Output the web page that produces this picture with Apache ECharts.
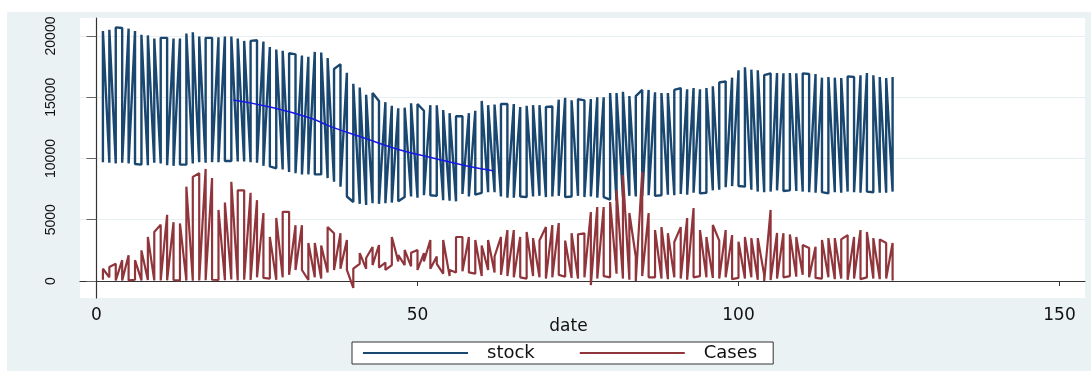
<!DOCTYPE html>
<html>
<head>
<meta charset="utf-8">
<script src="https://cdn.jsdelivr.net/npm/echarts@6/dist/echarts.min.js"></script>
<style>
  html, body { margin: 0; padding: 0; background: #ffffff; }
  #chart { position: absolute; left: 7px; top: 12px; width: 1084px; height: 359px; }
</style>
</head>
<body>
<div id="chart"></div>
<script>
// two observations per date, drawn in data order (Stata-style line)
const xTicks = [0, 50, 100, 150]
const yTicks = [0, 5000, 10000, 15000, 20000]

const stockHigh = [
  20400, 20500, 20700, 20650, 20600, 20400, 20100, 20050, 19800, 19850,
  19850, 19800, 19800, 20200, 20300, 19950, 19850, 19850, 19900, 19950,
  19950, 19800, 19600, 19600, 19650, 19550, 19100, 18900, 18800, 18600,
  18500, 18400, 18300, 18700, 18650, 18200, 17300, 17700, 17000, 16100,
  15800, 15200, 15350, 14700, 14600, 14300, 14100, 14150, 14500, 14450,
  13900, 14350, 14350, 13950, 13700, 13450, 13450, 13700, 13900, 14700,
  14350, 14400, 14450, 14450, 14450, 14200, 14300, 14350, 14350, 14200,
  14250, 14800, 14950, 14750, 14850, 14750, 14850, 15000, 15000, 15350,
  15350, 15450, 15100, 15100, 15600, 15600, 15400, 15350, 15350, 15600,
  15750, 15650, 15750, 15650, 15750, 15900, 16200, 16300, 16600, 17200,
  17450, 17250, 17200, 16800, 16950, 16980, 16950, 16980, 16950, 16950,
  16900, 16900, 16600, 16650, 16600, 16570, 16700, 16650, 16800, 16980,
  16800, 16650, 16570, 16650
]
const stockLow = [
  9700, 9650, 9600, 9650, 9600, 9550, 9500, 9450, 9650, 9600,
  9450, 9400, 9500, 9500, 9600, 9700, 9650, 9700, 9700, 9800,
  9800, 9750, 9750, 9700, 9650, 9400, 9350, 9200, 9100, 8900,
  8800, 8700, 8700, 8700, 8700, 8400, 8100, 7700, 6900, 6450,
  6300, 6200, 6350, 6300, 6350, 6400, 6500, 6850, 6900, 6800,
  7000, 7000, 6950, 6600, 6550, 6500, 7100, 6900, 7050, 7200,
  7250, 7250, 6900, 6800, 6800, 6900, 6850, 6900, 6950, 6850,
  6900, 6950, 6850, 6900, 6950, 6850, 6900, 6800, 6850, 6650,
  6550, 6900, 6950, 6900, 6950, 7000, 6950, 7000, 7050, 7000,
  7100, 7050, 7200, 7150, 7200, 7400, 7450, 7650, 7750, 7750,
  7700, 7450, 7300, 7250, 7300, 7400, 7350, 7400, 7350, 7300,
  7250, 7200, 7250, 7150, 7250, 7200, 7300, 7250, 7200, 7300,
  7250, 7200, 7200, 7300
]
// L = low obs first, H = high obs first
const stockOrder = [
  "LLLHHHLLLL", "HHHLLLLHHH", "LLLLHHHLLL", "HHHHLLLHHL",
  "LLLHHHHLLL", "HHLLLLHHHL", "LLLHHHLLLL", "HHHLLHHHHL",
  "LLLLHHHLLL", "HHHHLLLHHH", "LLLLHHHLLL", "HHHLLLLHHH", "LLLL"
].join("")

const casesTop = [
  1000, 1150, 1400, 1700, 2100, 1700, 2500, 3600, 4000, 4600,
  5400, 4800, 4700, 7700, 8500, 8800, 9150, 8400, 5800, 6400,
  8100, 7400, 7400, 7200, 6600, 5550, 3600, 5150, 5650, 5650,
  4550, 4550, 3100, 3100, 2900, 4400, 3900, 3900, 3350, 1000,
  2280, 1880, 2780, 2940, 1500, 3590, 2120, 2530, 2300, 2530,
  2280, 3350, 2000, 3350, 900, 3590, 3590, 3590, 3350, 2900,
  3350, 2000, 3600, 4160, 4160, 3600, 4000, 3500, 3300, 4400,
  4570, 4730, 3300, 3900, 3800, 3900, 5630, 6040, 6040, 6450,
  7430, 8650, 5550, 2000, 8900, 5550, 4160, 4400, 3900, 3180,
  4400, 5140, 5960, 4160, 3600, 4570, 3300, 4160, 3750, 3200,
  3600, 3500, 3500, 500, 5800, 3920, 3900, 3800, 3600, 2940,
  2700, 2800, 3350, 3500, 3500, 3400, 3750, 3600, 4160, 4000,
  3500, 3400, 3100, 3100
]
const casesBottom = [
  100, 300, 50, 50, 50, 100, 50, 80, 50, 50,
  60, 80, 50, 40, 30, 50, 60, 100, 80, 60,
  120, 50, 100, 80, 300, 250, 200, 100, 300, 500,
  900, 900, 80, 300, 200, 700, 900, 1000, 900, -570,
  1400, 1000, 1300, 1100, 900, 1300, 1600, 1300, 1200, 900,
  1600, 1000, 1400, 600, 400, 700, 800, 700, 600, 400,
  900, 700, 500, 400, 300, 300, 200, 400, 300, 200,
  300, 500, 350, 250, 200, 300, -330, 200, 400, 300,
  600, 200, 100, 0, 400, 300, 300, 200, 150, 300,
  200, 100, 300, 400, 300, 250, 200, 300, 150, 250,
  200, 300, 100, 0, 80, 200, 300, 400, 350, 500,
  300, 250, 200, 300, 150, 200, 100, 200, 150, 300,
  200, 150, 200, 50
]
const casesOrder = [
  "LLHHHLLLLH", "HHLLLHHHLL", "LLHHHHLLLH", "HHLLLLHHHL",
  "LLHHHLLLLH", "HHHLLLHHLL", "LLHHHHLLLH", "HHLLLHHHHL",
  "LLLHHHLLLL", "HHHLLLHHHL", "LLLHHHHLLL", "HHLLLLHHHL", "LLHH"
].join("")

// thin blue curve drawn over the stock band
const trendDates = [21.3, 27, 33.3, 36.5, 41.7, 47.3, 52.4, 57.7, 61.8]
const trendValues = [14775, 14200, 13300, 12600, 11670, 10690, 10040, 9390, 9000]

function toPoints(high, low, order) {
  const pts = []
  high.forEach((h, i) => {
    const d = i + 1
    if (order[i] === "L") {
      pts.push([d, low[i]], [d, h])
    } else {
      pts.push([d, h], [d, low[i]])
    }
  })
  return pts
}

const chart = echarts.init(document.getElementById("chart"), null, { renderer: "canvas" })

chart.setOption({
  animation: false,
  backgroundColor: "#eaf2f3",
  textStyle: { fontFamily: "DejaVu Sans" },
  grid: {
    left: 73,
    top: 6,
    right: 6,
    bottom: 73,
    show: true,
    backgroundColor: "#ffffff",
    borderWidth: 0,
  },
  xAxis: {
    type: "value",
    min: -2.57,
    max: 153.97,
    name: "date",
    nameLocation: "middle",
    nameGap: 20,
    nameMoveOverlap: false,
    nameTextStyle: { fontSize: 17, color: "#111", padding: [0, 28, 0, 0] },
    axisLine: { lineStyle: { color: "#333", width: 1.2 } },
    axisTick: { customValues: xTicks, length: 5, lineStyle: { color: "#333" } },
    axisLabel: { customValues: xTicks, fontSize: 17, margin: 9, color: "#111" },
    splitLine: { show: false },
  },
  yAxis: {
    type: "value",
    min: -1388,
    max: 21469,
    axisLine: { show: true, lineStyle: { color: "#333", width: 1.2 } },
    axisTick: { show: true, customValues: yTicks, length: 10, lineStyle: { color: "#666" } },
    axisLabel: {
      customValues: yTicks,
      formatter: (v) => String(v),
      rotate: 90,
      margin: 22,
      fontSize: 14,
      fontFamily: "Liberation Sans",
      color: "#111",
    },
    splitLine: { show: true, lineStyle: { color: "#e8eff1", width: 1 } },
  },
  legend: {
    data: [
      { name: "stock", textStyle: { width: 63 } },
      { name: "Cases", textStyle: { width: 79 } },
    ],
    left: 345,
    top: 330,
    icon: "rect",
    itemWidth: 105,
    itemHeight: 2,
    itemGap: 45,
    padding: [2, 16, 2, 11],
    borderColor: "#333",
    borderWidth: 1,
    backgroundColor: "#ffffff",
    textStyle: { fontSize: 18, color: "#111", padding: [0, 0, 0, 14] },
  },
  series: [
    {
      name: "stock",
      type: "line",
      symbol: "none",
      color: "#1a476f",
      lineStyle: { color: "#1a476f", width: 2.4 },
      data: toPoints(stockHigh, stockLow, stockOrder),
    },
    {
      name: "Cases",
      type: "line",
      symbol: "none",
      color: "#90353b",
      lineStyle: { color: "#90353b", width: 2.2 },
      data: toPoints(casesTop, casesBottom, casesOrder),
    },
    {
      type: "line",
      symbol: "none",
      smooth: true,
      color: "#1818e6",
      lineStyle: { color: "#1818e6", width: 1.5 },
      data: trendDates.map((d, i) => [d, trendValues[i]]),
    },
  ],
})
</script>
</body>
</html>
